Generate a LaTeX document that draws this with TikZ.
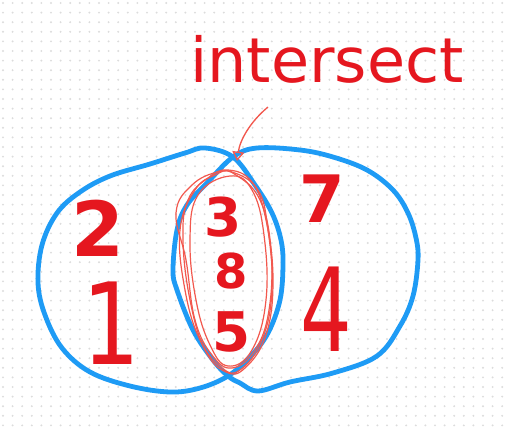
\documentclass[tikz,border=0pt]{standalone}
\usepackage{fontspec}
\newfontfamily\handfont{DejaVu Sans}
\usetikzlibrary{arrows.meta}
\definecolor{venblue}{HTML}{1E9BF5}
\definecolor{inkred}{HTML}{E5171F}
\definecolor{penred}{HTML}{F2584E}
\definecolor{dotgray}{HTML}{DCDCDC}
\newcommand{\numsize}[1]{\fontsize{#1}{#1}\handfont}
\begin{document}
\begin{tikzpicture}[x=0.75pt, y=-0.75pt,
		num/.style={text=inkred, inner sep=0pt},
		setline/.style={venblue, line width=3.6pt, line join=round},
		scribble/.style={penred, line width=0.9pt}]
	\useasboundingbox (0,0) rectangle (508,426);
	\fill[white] (0,0) rectangle (508,426);
	% dotted paper
	\foreach \i in {0,...,53}
		\foreach \j in {0,...,44}
			\fill[dotgray] (\i*9.6+3,\j*9.6+3) circle (0.8pt);
	% the two sets
	\draw[setline] plot[smooth cycle, tension=0.6] coordinates {(38,283) (42,245) (57,213) (80,192) (110,176) (150,164) (185,153) (205,148) (233,157) (255,185) (272,213) (281,240) (283,265) (280,300) (268,333) (250,357) (228,376) (200,388) (170,392) (130,386) (90,372) (62,348) (45,315)};
	\draw[setline] plot[smooth cycle, tension=0.6] coordinates {(233,157) (257,148) (300,150) (333,157) (367,170) (393,190) (408,213) (416,238) (418,260) (413,296) (400,326) (377,356) (333,373) (290,382) (258,391) (240,383) (228,376) (213,360) (193,330) (177,290) (173,270) (177,230) (187,205) (207,183)};
	% scribbled intersection
	\draw[scribble] plot[smooth cycle, tension=0.7] coordinates {(232,172) (258,190) (268,230) (272,290) (262,340) (240,370) (222,368) (200,340) (185,290) (180,230) (195,190) (215,175)};
	\draw[scribble] plot[smooth cycle, tension=0.7] coordinates {(228,170) (252,182) (266,220) (273,280) (266,335) (245,368) (226,372) (205,350) (190,300) (183,240) (188,200) (208,178)};
	\draw[scribble] plot[smooth cycle, tension=0.7] coordinates {(236,175) (260,200) (271,250) (269,310) (255,350) (232,368) (212,355) (195,320) (186,260) (176,213) (192,185) (218,172)};
	\draw[scribble] plot[smooth cycle, tension=0.7] coordinates {(230,176) (252,190) (264,235) (266,300) (252,350) (228,366) (210,345) (196,300) (190,240) (198,195)};
	% label and arrow
	\node[num, font=\numsize{46.5}, anchor=base west] (label) at (190,82) {intersect};
	\coordinate (from) at (268,107);
	\coordinate (tip) at (237,161);
	\draw[penred, line width=1pt, -{Triangle[open, length=7pt, width=9pt]}] (from) .. controls (250,122) and (240,140) .. (tip);
	% members
	\node[num, font=\numsize{57}\bfseries] (two) at (98,228) {2};
	\node[num, font=\numsize{85}] (one) at (111,323) {\scalebox{0.8}[1]{1}};
	\node[num, font=\numsize{40}\bfseries] (three) at (223,217) {3};
	\node[num, font=\numsize{36}\bfseries] (eight) at (231,271) {8};
	\node[num, font=\numsize{41}\bfseries] (five) at (232,332) {5};
	\node[num, font=\numsize{49}\bfseries] (seven) at (322,199) {7};
	\node[num, font=\numsize{87}] (four) at (326,309) {\scalebox{0.7}[1]{4}};
\end{tikzpicture}
\end{document}
